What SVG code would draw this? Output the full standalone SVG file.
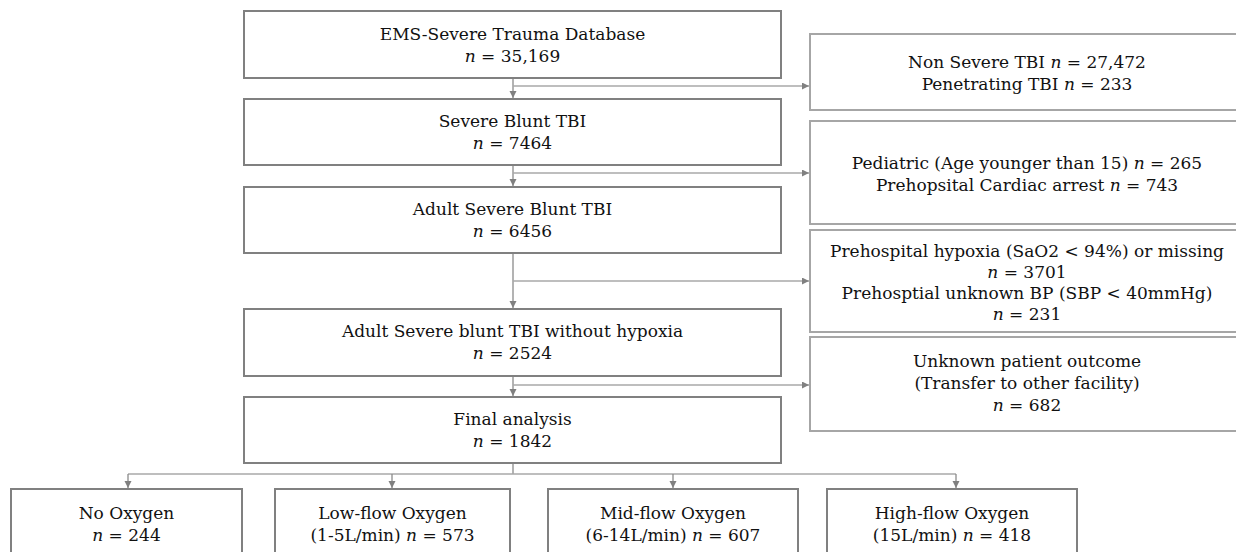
<svg xmlns="http://www.w3.org/2000/svg" width="1236" height="552" viewBox="0 0 1236 552">
<style>
  text { font-family: "DejaVu Serif", "Liberation Serif", serif; font-size: 17px; fill: #111111; text-anchor: middle; }
  .i { font-style: italic; }
  .main { fill: #ffffff; stroke: #808080; stroke-width: 2; }
  .side { fill: #ffffff; stroke: #a6a6a6; stroke-width: 2; }
  .ln { fill: none; stroke: #8a8a8a; stroke-width: 1.3; }
  .hl { fill: none; stroke: #a8a8a8; stroke-width: 1.5; }
</style>
<defs>
  <marker id="ah" markerUnits="userSpaceOnUse" markerWidth="8" markerHeight="8" refX="7" refY="3.5" orient="auto">
    <path d="M0,0 L7,3.5 L0,7 z" fill="#808080"/>
  </marker>
</defs>
<rect width="1236" height="552" fill="#ffffff"/>

<g id="connectors">
  <line class="ln" x1="513" y1="78" x2="513" y2="98" marker-end="url(#ah)"/>
  <line class="ln" x1="513" y1="165" x2="513" y2="186" marker-end="url(#ah)"/>
  <line class="ln" x1="513" y1="253" x2="513" y2="308" marker-end="url(#ah)"/>
  <line class="ln" x1="513" y1="376" x2="513" y2="396" marker-end="url(#ah)"/>
  <line class="hl" x1="513" y1="86" x2="809" y2="86" marker-end="url(#ah)"/>
  <line class="hl" x1="513" y1="173" x2="809" y2="173" marker-end="url(#ah)"/>
  <line class="hl" x1="513" y1="281" x2="809" y2="281" marker-end="url(#ah)"/>
  <line class="hl" x1="513" y1="385" x2="809" y2="385" marker-end="url(#ah)"/>
  <line class="ln" x1="513" y1="463" x2="513" y2="474"/>
  <line class="hl" x1="128" y1="474" x2="956" y2="474"/>
  <line class="ln" x1="128" y1="474" x2="128" y2="488" marker-end="url(#ah)"/>
  <line class="ln" x1="392" y1="474" x2="392" y2="488" marker-end="url(#ah)"/>
  <line class="ln" x1="673" y1="474" x2="673" y2="488" marker-end="url(#ah)"/>
  <line class="ln" x1="956" y1="474" x2="956" y2="488" marker-end="url(#ah)"/>
</g>

<g id="n-ems">
  <rect class="main" x="244" y="11" width="537" height="67"/>
  <text x="512.5" y="40">EMS-Severe Trauma Database</text>
  <text x="512.5" y="62"><tspan class="i">n</tspan> = 35,169</text>
</g>
<g id="n-severe-blunt">
  <rect class="main" x="244" y="99" width="537" height="66"/>
  <text x="512.5" y="127">Severe Blunt TBI</text>
  <text x="512.5" y="149"><tspan class="i">n</tspan> = 7464</text>
</g>
<g id="n-adult">
  <rect class="main" x="244" y="187" width="537" height="66"/>
  <text x="512.5" y="215">Adult Severe Blunt TBI</text>
  <text x="512.5" y="237"><tspan class="i">n</tspan> = 6456</text>
</g>
<g id="n-nohypoxia">
  <rect class="main" x="244" y="309" width="537" height="67"/>
  <text x="512.5" y="337">Adult Severe blunt TBI without hypoxia</text>
  <text x="512.5" y="359"><tspan class="i">n</tspan> = 2524</text>
</g>
<g id="n-final">
  <rect class="main" x="244" y="397" width="537" height="66"/>
  <text x="512.5" y="425">Final analysis</text>
  <text x="512.5" y="447"><tspan class="i">n</tspan> = 1842</text>
</g>

<g id="x-nonsevere">
  <rect class="side" x="810" y="34" width="436" height="76"/>
  <text x="1027" y="68">Non Severe TBI <tspan class="i">n</tspan> = 27,472</text>
  <text x="1027" y="90">Penetrating TBI <tspan class="i">n</tspan> = 233</text>
</g>
<g id="x-pediatric">
  <rect class="side" x="810" y="121" width="436" height="103"/>
  <text x="1027" y="169">Pediatric (Age younger than 15) <tspan class="i">n</tspan> = 265</text>
  <text x="1027" y="191">Prehopsital Cardiac arrest <tspan class="i">n</tspan> = 743</text>
</g>
<g id="x-hypoxia">
  <rect class="side" x="810" y="230" width="436" height="102"/>
  <text x="1027" y="257">Prehospital hypoxia (SaO2 &lt; 94%) or missing</text>
  <text x="1027" y="278"><tspan class="i">n</tspan> = 3701</text>
  <text x="1027" y="299">Prehosptial unknown BP (SBP &lt; 40mmHg)</text>
  <text x="1027" y="320"><tspan class="i">n</tspan> = 231</text>
</g>
<g id="x-outcome">
  <rect class="side" x="810" y="337" width="436" height="94"/>
  <text x="1027" y="367">Unknown patient outcome</text>
  <text x="1027" y="389">(Transfer to other facility)</text>
  <text x="1027" y="411"><tspan class="i">n</tspan> = 682</text>
</g>

<g id="o-none">
  <rect class="main" x="11" y="489" width="231" height="80"/>
  <text x="126.5" y="519">No Oxygen</text>
  <text x="126.5" y="541"><tspan class="i">n</tspan> = 244</text>
</g>
<g id="o-low">
  <rect class="main" x="275" y="489" width="235" height="80"/>
  <text x="392.5" y="519">Low-flow Oxygen</text>
  <text x="392.5" y="541">(1-5L/min) <tspan class="i">n</tspan> = 573</text>
</g>
<g id="o-mid">
  <rect class="main" x="548" y="489" width="250" height="80"/>
  <text x="673" y="519">Mid-flow Oxygen</text>
  <text x="673" y="541">(6-14L/min) <tspan class="i">n</tspan> = 607</text>
</g>
<g id="o-high">
  <rect class="main" x="827" y="489" width="250" height="80"/>
  <text x="952" y="519">High-flow Oxygen</text>
  <text x="952" y="541">(15L/min) <tspan class="i">n</tspan> = 418</text>
</g>
</svg>
